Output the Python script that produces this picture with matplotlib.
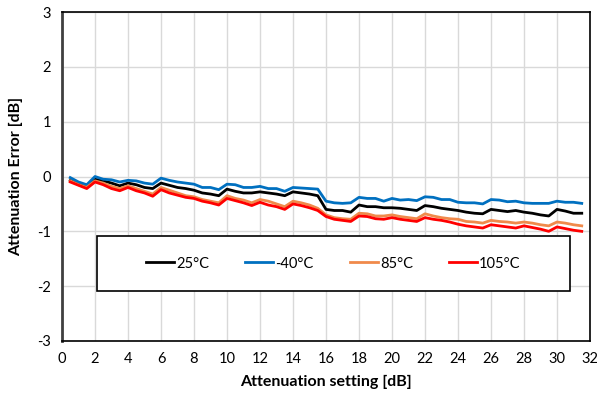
import numpy as np
import matplotlib.pyplot as plt
from matplotlib.patches import Rectangle

plt.rcParams['font.family'] = ['Lato', 'DejaVu Sans']
plt.rcParams['axes.unicode_minus'] = False

# attenuation settings, 0.5 dB steps
setting = np.arange(1, 64) * 0.5

err_25 = [-0.07, -0.13, -0.18, -0.05, -0.08, -0.12, -0.17, -0.12, -0.15, -0.20,
          -0.22, -0.12, -0.16, -0.20, -0.22, -0.25, -0.30, -0.32, -0.35, -0.23,
          -0.27, -0.30, -0.30, -0.28, -0.30, -0.32, -0.35, -0.28, -0.30, -0.32,
          -0.35, -0.60, -0.62, -0.62, -0.65, -0.52, -0.55, -0.55, -0.57, -0.57,
          -0.58, -0.60, -0.62, -0.53, -0.55, -0.58, -0.60, -0.62, -0.65, -0.67,
          -0.68, -0.60, -0.62, -0.64, -0.62, -0.65, -0.67, -0.70, -0.72, -0.60,
          -0.63, -0.67, -0.67]
err_m40 = [-0.02, -0.10, -0.15, 0.00, -0.05, -0.06, -0.10, -0.07, -0.08, -0.12,
           -0.14, -0.03, -0.07, -0.10, -0.12, -0.14, -0.20, -0.20, -0.24, -0.14,
           -0.15, -0.20, -0.20, -0.18, -0.22, -0.22, -0.27, -0.20, -0.21, -0.22,
           -0.23, -0.45, -0.48, -0.49, -0.48, -0.38, -0.40, -0.40, -0.45, -0.40,
           -0.43, -0.42, -0.44, -0.37, -0.38, -0.42, -0.42, -0.47, -0.48, -0.48,
           -0.50, -0.42, -0.43, -0.46, -0.45, -0.48, -0.49, -0.49, -0.49, -0.45,
           -0.47, -0.47, -0.49]
err_85 = [-0.08, -0.15, -0.20, -0.08, -0.12, -0.18, -0.22, -0.17, -0.22, -0.27,
          -0.32, -0.20, -0.25, -0.30, -0.35, -0.37, -0.42, -0.45, -0.48, -0.35,
          -0.40, -0.43, -0.48, -0.42, -0.45, -0.50, -0.55, -0.45, -0.48, -0.52,
          -0.58, -0.70, -0.75, -0.77, -0.78, -0.67, -0.68, -0.72, -0.72, -0.70,
          -0.73, -0.75, -0.77, -0.68, -0.72, -0.75, -0.77, -0.78, -0.82, -0.83,
          -0.85, -0.80, -0.82, -0.83, -0.85, -0.83, -0.85, -0.88, -0.90, -0.83,
          -0.85, -0.88, -0.90]
err_105 = [-0.10, -0.16, -0.22, -0.10, -0.15, -0.22, -0.26, -0.20, -0.26, -0.30,
           -0.36, -0.24, -0.30, -0.34, -0.38, -0.40, -0.45, -0.48, -0.52, -0.40,
           -0.44, -0.48, -0.53, -0.47, -0.52, -0.55, -0.60, -0.50, -0.53, -0.57,
           -0.62, -0.73, -0.78, -0.80, -0.82, -0.72, -0.73, -0.77, -0.78, -0.75,
           -0.78, -0.80, -0.82, -0.75, -0.78, -0.80, -0.83, -0.87, -0.90, -0.92,
           -0.94, -0.88, -0.90, -0.92, -0.94, -0.90, -0.93, -0.96, -1.00, -0.92,
           -0.95, -0.98, -1.00]

labels = ['25°C', '-40°C', '85°C', '105°C']
colors = ['black', '#0070C0', '#F08A4B', '#FF0000']

fig = plt.figure(figsize=(5.97, 3.99), dpi=100)
ax = fig.add_axes([62 / 597, 58 / 399, 528 / 597, 329 / 399])

for ys, lab, c in zip([err_25, err_m40, err_85, err_105], labels, colors):
    ax.plot(setting, ys, color=c, lw=2, label=lab)

ax.set_xlim(0, 32)
ax.set_ylim(-3, 3)
ax.set_xticks(np.arange(0, 33, 2))
ax.set_yticks(np.arange(-3, 4, 1))
ax.grid(True, color='#d9d9d9', lw=1)
ax.set_axisbelow(True)
ax.tick_params(length=0, labelsize=10.5, pad=8)
for s in ax.spines.values():
    s.set_color('black')
    s.set_linewidth(1.2)
ax.spines['left'].set_color('#404040')
ax.spines['left'].set_linewidth(2)

ax.set_xlabel('Attenuation setting [dB]', fontsize=11.5, fontweight='bold', labelpad=6)
ax.set_ylabel('Attenuation Error [dB]', fontsize=11.5, fontweight='bold', labelpad=10)

# legend frame drawn separately so its size matches the original box
box = Rectangle((0.066, 0.152), 0.896, 0.167, transform=ax.transAxes,
                facecolor='white', edgecolor='black', lw=1.2, zorder=4)
ax.add_patch(box)
leg = ax.legend(ncol=4, loc='center', bbox_to_anchor=(0.514, 0.2355),
                fontsize=10.5, frameon=False, handlelength=1.9,
                handletextpad=0.15, columnspacing=2.5)
leg.set_zorder(5)

fig.savefig('out.png', dpi=100)
